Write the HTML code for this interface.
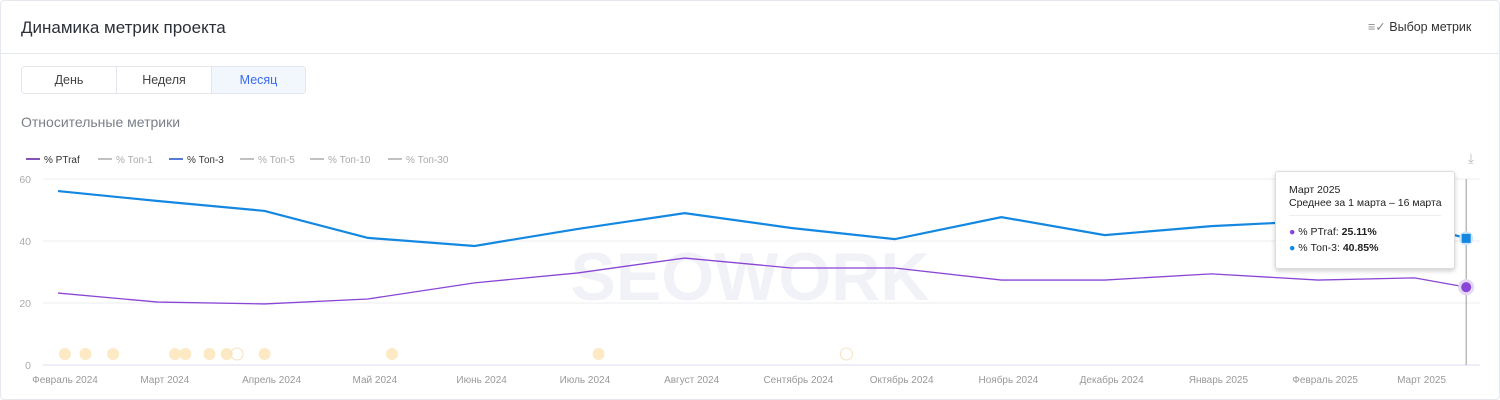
<!DOCTYPE html>
<html><head><meta charset="utf-8"><style>
body{margin:0;width:1500px;height:400px;background:#fff;font-family:"Liberation Sans",sans-serif;overflow:hidden;position:relative}
.abs{position:absolute}
</style></head><body>
<div class="abs" style="left:0;top:0;width:1498px;height:398px;border:1px solid #e6e8ef;border-radius:4px"></div>
<div class="abs" style="left:21px;top:18px;font-size:17px;color:#2b2f38">Динамика метрик проекта</div>
<div class="abs" style="left:1368px;top:19px;font-size:12.5px;color:#333">
<span style="color:#888">≡✓</span> Выбор метрик</div>
<div class="abs" style="left:0;top:53px;width:1500px;height:1px;background:#e6e8ef"></div>
<div class="abs" style="left:21px;top:66px;width:283px;height:26px;border:1px solid #e3e6ee;border-radius:4px;display:flex;font-size:12.5px;overflow:hidden">
<div style="width:94px;text-align:center;line-height:26px;color:#444;border-right:1px solid #e3e6ee">День</div>
<div style="width:94px;text-align:center;line-height:26px;color:#444;border-right:1px solid #e3e6ee">Неделя</div>
<div style="flex:1;text-align:center;line-height:26px;color:#3b6cf0;background:#f2f6fd">Месяц</div>
</div>
<div class="abs" style="left:21px;top:114px;font-size:14px;color:#7a7f88">Относительные метрики</div>
<svg id="chart" class="abs" style="left:0;top:0" width="1500" height="400"></svg>
<div class="abs" style="left:1275px;top:171px;width:178px;height:96px;background:#fff;border:1px solid #ddd;border-radius:3px;box-shadow:0 2px 5px rgba(0,0,0,.2);font-size:10.5px;color:#222">
<div style="position:absolute;left:13px;top:12px;line-height:13px">Март 2025<br>Среднее за 1 марта – 16 марта</div>
<div style="position:absolute;left:13px;top:43px;width:152px;height:1px;background:#eee"></div>
<div style="position:absolute;left:13px;top:54px"><span style="color:#8a45d4">●</span> % PTraf: <b>25.11%</b></div>
<div style="position:absolute;left:13px;top:70px"><span style="color:#1488e0">●</span> % Топ-3: <b>40.85%</b></div>
</div>
<script>
const monthLabels=["Февраль 2024","Март 2024","Апрель 2024","Май 2024","Июнь 2024","Июль 2024","Август 2024","Сентябрь 2024","Октябрь 2024","Ноябрь 2024","Декабрь 2024","Январь 2025","Февраль 2025","Март 2025"];
const pointDays=[0,29,60,90,121,151,182,213,243,274,304,335,366,394,409];
const ptraf=[23.2,20.3,19.7,21.3,26.5,29.7,34.5,31.3,31.3,27.4,27.4,29.4,27.4,28.1,25.11];
const top3=[56.1,52.9,49.7,41,38.4,43.9,49,44.2,40.6,47.7,41.9,44.8,46.5,45.5,40.85];
const yTicks=[0,20,40,60];
const eventDays=[2,8,16,34,37,44,49,52,60,97,157,229];
const NS="http://www.w3.org/2000/svg",svg=document.getElementById('chart');
const x=d=>58+d*3.443, y=v=>365-v*3.1;
function mk(t,a){const e=document.createElementNS(NS,t);for(const k in a)e.setAttribute(k,a[k]);svg.appendChild(e);return e;}
yTicks.forEach(v=>{const l=mk('line',{x1:43,x2:1480,y1:y(v),y2:y(v),stroke:v?'#ececf0':'#dcdcf0'});

const t=mk('text',{x:31,y:y(v)+4,'font-size':10.5,fill:'#aaa','text-anchor':'end'});t.textContent=v;
});
const wm=mk('text',{x:750,y:300,'font-size':68,'font-weight':'bold',fill:'#f1f2f8','text-anchor':'middle'});wm.textContent='SEOWORK';

monthLabels.forEach((m,i)=>{const t=mk('text',{x:x(pointDays[i])+7,y:383,'font-size':10,fill:'#999','text-anchor':'middle'});t.textContent=m;
});
const legend=[["% PTraf","#5a1a9a","#333",26],["% Топ-1","#aaa","#aaa",98],["% Топ-3","#1f4fc8","#333",169],["% Топ-5","#aaa","#aaa",240],["% Топ-10","#aaa","#aaa",310],["% Топ-30","#aaa","#aaa",388]];
legend.forEach(l=>{const g=mk('line',{x1:l[3],x2:l[3]+14,y1:159,y2:159,stroke:l[1],'stroke-width':1.5});

const t=mk('text',{x:l[3]+18,y:163,'font-size':10,fill:l[2]});t.textContent=l[0];
});
const dl=mk('text',{x:1471,y:163,'font-size':14,fill:'#bbb','text-anchor':'middle'});dl.textContent='⤓';

const cross=mk('line',{x1:x(409),x2:x(409),y1:179,y2:365,stroke:'#999'});

const p1=mk('polyline',{points:top3.map((v,i)=>x(pointDays[i])+','+y(v)).join(' '),fill:'none',stroke:'#1488e0','stroke-width':2.2});

const p2=mk('polyline',{points:ptraf.map((v,i)=>x(pointDays[i])+','+y(v)).join(' '),fill:'none',stroke:'#8a45d4','stroke-width':1.3});

const n=top3.length-1;
const h1=mk('circle',{cx:x(pointDays[n]),cy:y(top3[n]),r:7,fill:'#cfe6fa'});
const s1=mk('rect',{x:x(pointDays[n])-4.5,y:y(top3[n])-4.5,width:9,height:9,fill:'#1488e0'});
const h2=mk('circle',{cx:x(pointDays[n]),cy:y(ptraf[n]),r:8,fill:'#e4d6f5'});
const s2=mk('circle',{cx:x(pointDays[n]),cy:y(ptraf[n]),r:5,fill:'#8a45d4'});
eventDays.forEach((d,i)=>{const c=mk('circle',{cx:x(d),cy:354,r:6,fill:(i==7||i==11)?'none':'#fde9c4',stroke:(i==7||i==11)?'#f5e2c0':'none'});
});
</script>
</body></html>
